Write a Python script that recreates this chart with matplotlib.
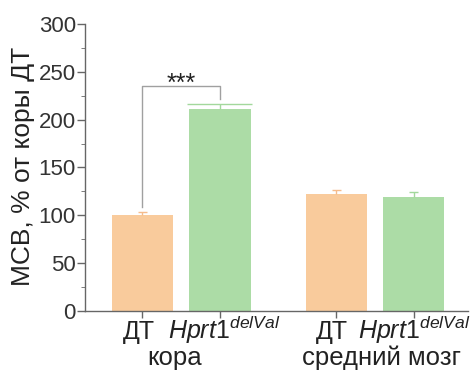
import matplotlib
matplotlib.use("Agg")
import matplotlib.pyplot as plt
import numpy as np

plt.rcParams['font.family'] = ['Liberation Sans', 'DejaVu Sans']
plt.rcParams['mathtext.fontset'] = 'custom'
plt.rcParams['mathtext.rm'] = 'Liberation Sans'
plt.rcParams['mathtext.it'] = 'Liberation Sans:italic'

tick_labels = ["ДТ", r"$\it{Hprt}$1$^{\it{delVal}}$", "ДТ", r"$\it{Hprt}$1$^{\it{delVal}}$"]
groups = ["кора", "средний мозг"]
values = [100, 211, 122, 119.5]
errors = [4, 5, 4.5, 5]
ylabel = "МСВ, % от коры ДТ"
sig_text = "***"

positions = [0, 1, 2.5, 3.5]
colors = ["#F9CB9C", "#ACDCA6"]
err_colors = ["#F5BC8C", "#A3D89C"]
cap_half = [0.06, 0.42, 0.06, 0.06]
label_shift = [-0.05, 0.05, -0.05, 0.0]
W = 476
H = 374

fig = plt.figure(figsize=(W / 100, H / 100), dpi=100)
ax = fig.add_axes([85 / W, 63 / H, (468 - 85) / W, (311 - 24) / H])

for i, (p, v, e) in enumerate(zip(positions, values, errors)):
    ax.bar(p, v, width=0.79, color=colors[i % 2], zorder=2)
    ax.vlines(p, v, v + e, color=err_colors[i % 2], lw=1, zorder=3)
    ax.hlines(v + e, p - cap_half[i], p + cap_half[i], color=err_colors[i % 2], lw=1, zorder=3)

# significance bracket
gray = "#a0a0a0"
ax.plot([positions[0], positions[0], positions[1], positions[1]],
        [109, 235.5, 235.5, 222], color=gray, lw=1, zorder=1)
ax.text((positions[0] + positions[1]) / 2, 230, sig_text, ha='center', va='baseline',
        fontsize=18, color="#222222")

ax.set_xlim(-0.74, 4.2)
ax.set_ylim(0, 300)
ax.set_yticks(np.arange(0, 301, 50))
ax.set_yticks(np.arange(25, 300, 50), minor=True)
ax.set_xticks(positions)
ax.set_xticklabels([])
ax.tick_params(axis='y', labelsize=16, labelcolor="#333333", color="#666666",
               length=5.5, width=1, direction='out', pad=1)
ax.tick_params(axis='y', which='minor', length=3, color="#666666")
ax.tick_params(axis='x', color="#666666", length=5, width=1)
for s in ['top', 'right']:
    ax.spines[s].set_visible(False)
for s in ['left', 'bottom']:
    ax.spines[s].set_color("#666666")
    ax.spines[s].set_linewidth(1)

xt = ax.get_xaxis_transform()
for p, lab, sh in zip(positions, tick_labels, label_shift):
    ax.text(p + sh, -(339 - 311) / 287, lab, transform=xt, ha='center', va='baseline',
            fontsize=18, color="#222222")

for g, (a, b), off in zip(groups, [(positions[0], positions[1]), (positions[2], positions[3])], [-0.09, 0.08]):
    ax.text((a + b) / 2 + off, -(365 - 311) / 287, g, transform=xt,
            ha='center', va='baseline', fontsize=18.5, color="#222222")

fig.text(23 / W, 1 - 166 / H, ylabel, rotation=90, ha='center', va='center',
         fontsize=19, color="#222222")

fig.savefig("out.png", dpi=100)
